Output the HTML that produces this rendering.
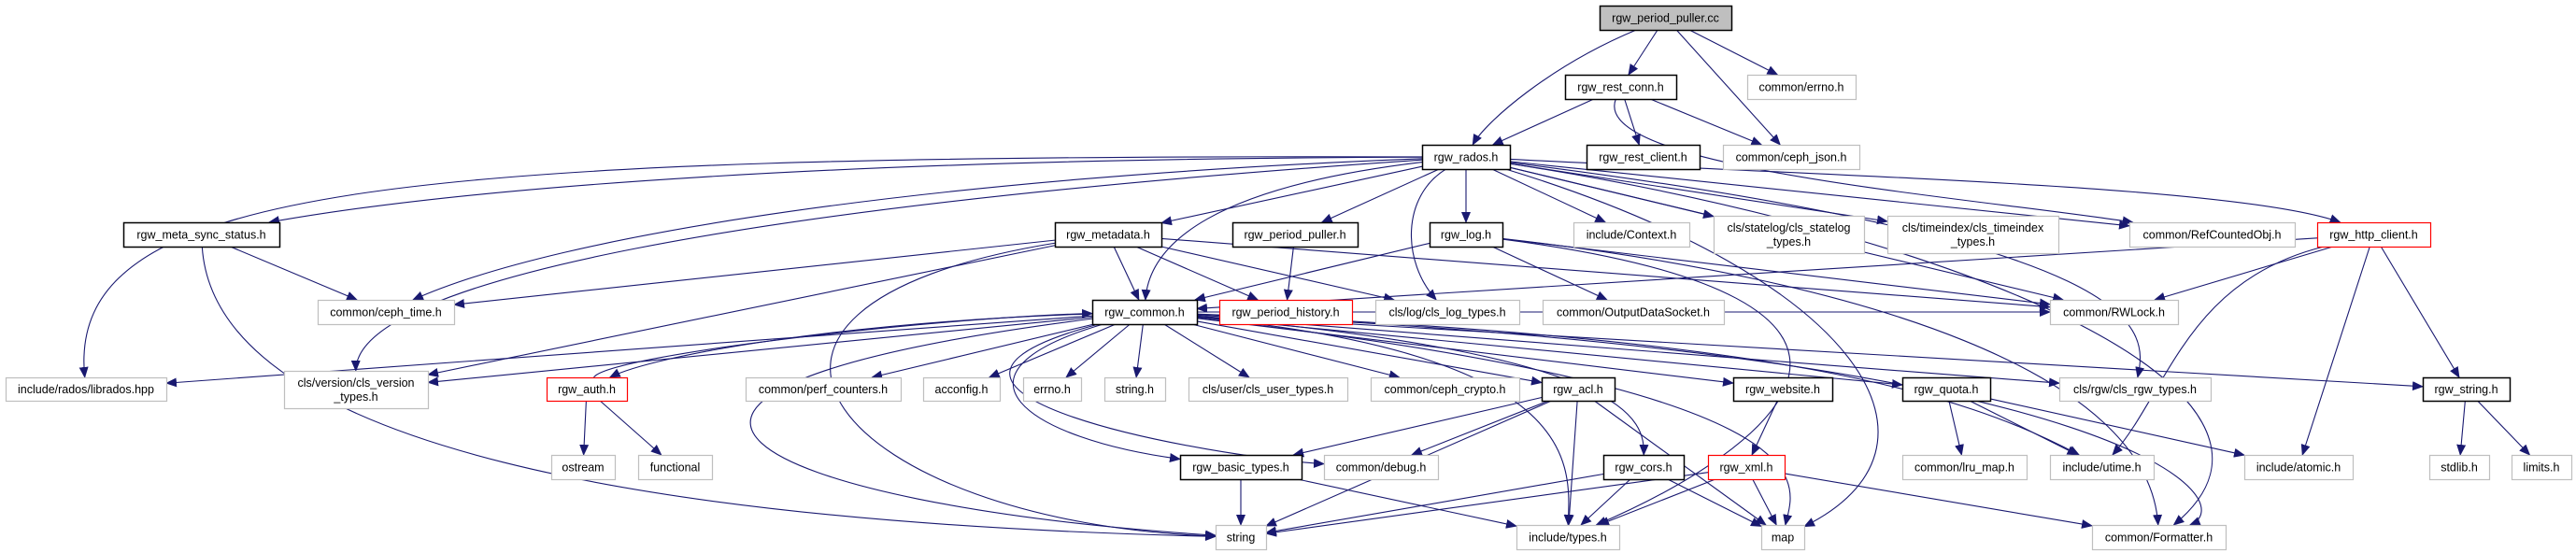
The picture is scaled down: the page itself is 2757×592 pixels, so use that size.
<!DOCTYPE html>
<html><head><meta charset="utf-8"><style>
html,body{margin:0;padding:0;background:#fff;}
svg{display:block;}
text{font-family:"Liberation Sans",sans-serif;font-size:12.5px;fill:#000;text-anchor:middle;}
</style></head><body>
<svg id="g" width="2757" height="592" viewBox="0 0 2757 592" xmlns="http://www.w3.org/2000/svg">
<defs><marker id="a" markerWidth="12" markerHeight="10" refX="11" refY="5" orient="auto" markerUnits="userSpaceOnUse"><path d="M0,0 L12,5 L0,10 Z" fill="#191970"/></marker></defs>
<g id="edges" fill="none" stroke="#191970" stroke-width="1.1"></g>
<g id="nodes"></g>
</svg>
<script>
var N={
pcc:[1712,6,1853,32,"rgw_period_puller.cc","s"],
conn:[1675,80,1794,106,"rgw_rest_conn.h","b"],
errno2:[1870,80,1986,106,"common/errno.h","g"],
rados:[1522,155,1616,181,"rgw_rados.h","b"],
rclient:[1698,155,1819,181,"rgw_rest_client.h","b"],
json:[1844,155,1990,181,"common/ceph_json.h","g"],
msync:[132,238,299,264,"rgw_meta_sync_status.h","b"],
meta:[1129,238,1243,264,"rgw_metadata.h","b"],
pph:[1319,238,1453,264,"rgw_period_puller.h","b"],
log:[1530,238,1608,264,"rgw_log.h","b"],
ctx:[1684,238,1808,264,"include/Context.h","g"],
statelog:[1834,231,1995,271,"cls/statelog/cls_statelog|_types.h","g"],
timeidx:[2020,231,2203,271,"cls/timeindex/cls_timeindex|_types.h","g"],
refc:[2279,238,2456,264,"common/RefCountedObj.h","g"],
http:[2480,238,2601,264,"rgw_http_client.h","r"],
ctime:[340,321,486,347,"common/ceph_time.h","g"],
common:[1169,321,1281,347,"rgw_common.h","b"],
phist:[1305,321,1447,347,"rgw_period_history.h","r"],
clslog:[1472,321,1626,347,"cls/log/cls_log_types.h","g"],
ods:[1651,321,1845,347,"common/OutputDataSocket.h","g"],
rwlock:[2194,321,2331,347,"common/RWLock.h","g"],
librados:[6,404,178,429,"include/rados/librados.hpp","g"],
clsver:[304,397,458,437,"cls/version/cls_version|_types.h","g"],
auth:[585,404,671,429,"rgw_auth.h","r"],
perf:[798,404,964,429,"common/perf_counters.h","g"],
acconf:[988,404,1070,429,"acconfig.h","g"],
errno:[1095,404,1157,429,"errno.h","g"],
stringh:[1182,404,1247,429,"string.h","g"],
user:[1272,404,1442,429,"cls/user/cls_user_types.h","g"],
crypto:[1467,404,1626,429,"common/ceph_crypto.h","g"],
acl:[1650,404,1728,429,"rgw_acl.h","b"],
web:[1855,404,1961,429,"rgw_website.h","b"],
quota:[2036,404,2130,429,"rgw_quota.h","b"],
clsrgw:[2204,404,2366,429,"cls/rgw/cls_rgw_types.h","g"],
rstring:[2593,404,2686,429,"rgw_string.h","b"],
ostream:[590,487,658,513,"ostream","g"],
functional:[683,487,762,513,"functional","g"],
basic:[1263,487,1393,513,"rgw_basic_types.h","b"],
debug:[1417,487,1539,513,"common/debug.h","g"],
cors:[1716,487,1802,513,"rgw_cors.h","b"],
xml:[1828,487,1910,513,"rgw_xml.h","r"],
lru:[2036,487,2169,513,"common/lru_map.h","g"],
utime:[2194,487,2305,513,"include/utime.h","g"],
atomic:[2402,487,2518,513,"include/atomic.h","g"],
stdlib:[2600,487,2664,513,"stdlib.h","g"],
limits:[2688,487,2752,513,"limits.h","g"],
string:[1301,562,1355,588,"string","g"],
types:[1623,562,1733,588,"include/types.h","g"],
map:[1885,562,1931,588,"map","g"],
fmt:[2239,562,2382,588,"common/Formatter.h","g"]
};
var E=[
["pcc","rados",[[1660,70],[1590,130]]],["pcc","conn"],["pcc","json"],["pcc","errno2"],
["conn","rados"],["conn","rclient"],["conn","json"],["conn","refc",[[1700,180],[2100,210]]],
["rados","msync",[[900,170],[500,200]]],["rados","librados",[[400,165],[70,200]]],["rados","meta"],["rados","pph"],["rados","log"],["rados","ctx"],
["rados","statelog"],["rados","timeidx"],["rados","refc"],["rados","http",[[2000,190],[2400,200]]],["rados","common",[[1300,200],[1230,260]]],
["rados","ctime",[[1000,190],[600,250]]],["rados","clsver",[[800,220],[380,300]]],["rados","clslog",[[1500,210],[1500,280]]],["rados","rwlock"],
["rados","clsrgw",[[2300,260],[2300,350]]],["rados","fmt",[[2100,250],[2500,420]]],["rados","map",[[2000,300],[2100,480]]],
["common","librados"],["common","clsver"],["common","auth",[[900,345],[700,380]]],["common","perf"],["common","acconf"],["common","errno"],["common","stringh"],
["common","user"],["common","crypto"],["common","acl"],["common","web"],["common","quota"],["common","clsrgw"],["common","rstring"],
["common","utime",[[1900,360],[2100,420]]],["common","rwlock"],["common","basic",[[1000,400],[1100,470]]],["common","debug",[[900,420],[1300,490]]],
["common","cors",[[1750,380],[1760,450]]],["common","types",[[1700,380],[1680,500]]],["common","map",[[1980,420],[1920,520]]],
["common","fmt",[[2300,380],[2400,540]]],["common","string",[[550,420],[800,540]]],
["auth","common",[[650,380],[1000,340]]],["auth","ostream"],["auth","functional"],
["meta","common"],["meta","ctime"],["meta","clsver"],["meta","phist"],["meta","clslog"],["meta","rwlock"],["meta","string",[[700,330],[900,560]]],
["msync","ctime"],["msync","string",[[230,480],[700,560]]],
["pph","phist"],
["log","common"],["log","ods"],["log","rwlock"],["log","fmt",[[2000,300],[2300,400]]],["log","types",[[2100,320],[1900,480]]],
["http","common"],["http","rwlock"],["http","atomic"],["http","rstring"],["http","utime",[[2340,300],[2320,420]]],
["acl","basic"],["acl","debug"],["acl","string"],["acl","types"],["acl","map"],
["basic","string"],["basic","types"],
["cors","string"],["cors","types"],["cors","map"],
["web","xml"],
["xml","map"],["xml","types"],["xml","fmt"],["xml","string"],
["quota","lru"],["quota","utime"],["quota","atomic"],
["rstring","stdlib"],["rstring","limits"]
];
function cx(n){return (n[0]+n[2])/2;}
function border(n,tx,ty){
 var x=cx(n),y=(n[1]+n[3])/2,dx=tx-x,dy=ty-y;
 var hw=(n[2]-n[0])/2,hh=(n[3]-n[1])/2;
 var s=Math.min(dx?hw/Math.abs(dx):1e9,dy?hh/Math.abs(dy):1e9);
 return [x+dx*s,y+dy*s];
}
var ns="http://www.w3.org/2000/svg",eg=document.getElementById("edges"),ng=document.getElementById("nodes");
E.forEach(function(e){
 var s=N[e[0]],t=N[e[1]],v=e[2];
 var p0,p1,d;
 if(v){p0=border(s,v[0][0],v[0][1]);p1=border(t,v[1][0],v[1][1]);
  d="M"+p0+" C"+v[0]+" "+v[1]+" "+p1;}
 else{p0=border(s,cx(t),(t[1]+t[3])/2);p1=border(t,cx(s),(s[1]+s[3])/2);d="M"+p0+" L"+p1;}
 var p=document.createElementNS(ns,"path");p.setAttribute("d",d);p.setAttribute("marker-end","url(#a)");eg.appendChild(p);
});
for(var k in N){var n=N[k];
 var r=document.createElementNS(ns,"rect");
 r.setAttribute("x",n[0]+.5);r.setAttribute("y",n[1]+.5);r.setAttribute("width",n[2]-n[0]);r.setAttribute("height",n[3]-n[1]);
 var st=n[5];
 r.setAttribute("fill",st=="s"?"#bfbfbf":"#fff");
 r.setAttribute("stroke",st=="g"?"#bfbfbf":st=="r"?"#ff0000":"#000");
 r.setAttribute("stroke-width",st=="b"||st=="s"?1.5:1.2);
 ng.appendChild(r);
 var lines=n[4].split("|"),yc=(n[1]+n[3])/2;
 lines.forEach(function(l,i){var t=document.createElementNS(ns,"text");
  t.setAttribute("x",cx(n));t.setAttribute("y",yc+4.5+(i-(lines.length-1)/2)*15);t.textContent=l;ng.appendChild(t);});
}
</script>
</body></html>
